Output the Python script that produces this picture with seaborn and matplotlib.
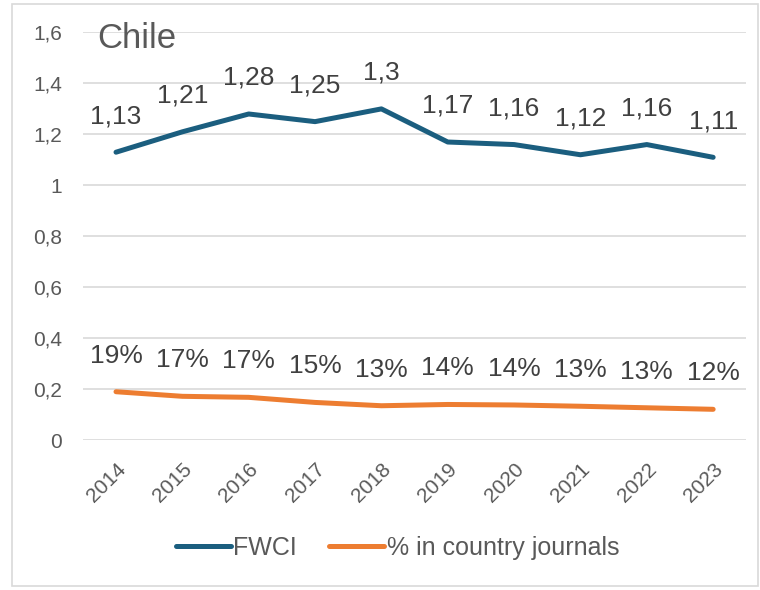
import pandas as pd
import matplotlib.pyplot as plt
import seaborn as sns
from matplotlib.patches import Rectangle

## Values
years = ['2014', '2015', '2016', '2017', '2018', '2019', '2020', '2021', '2022', '2023']
fwci = [1.13, 1.21, 1.28, 1.25, 1.30, 1.17, 1.16, 1.12, 1.16, 1.11]
country_share = [0.19, 0.172, 0.168, 0.148, 0.135, 0.14, 0.138, 0.133, 0.127, 0.121]
fwci_labels = ['1,13', '1,21', '1,28', '1,25', '1,3', '1,17', '1,16', '1,12', '1,16', '1,11']
share_labels = ['19%', '17%', '17%', '15%', '13%', '14%', '14%', '13%', '13%', '12%']
y_ticks = [0, 0.2, 0.4, 0.6, 0.8, 1.0, 1.2, 1.4, 1.6]
y_tick_labels = ['0', '0,2', '0,4', '0,6', '0,8', '1', '1,2', '1,4', '1,6']

blue = '#1b5e7f'
orange = '#ed7d31'
grey_text = '#595959'

data = pd.DataFrame({'year': years, 'FWCI': fwci, '% in country journals': country_share})
data = data.melt(id_vars='year', var_name='series', value_name='value')

sns.set_style('white')
plt.rcParams['font.family'] = ['Liberation Sans', 'DejaVu Sans']

fig = plt.figure(figsize=(7.6, 5.9), dpi=100)
ax = fig.add_axes([0.109, 0.254, 0.873, 0.691])

sns.lineplot(data=data, x='year', y='value', hue='series', sort=False,
             palette={'FWCI': blue, '% in country journals': orange},
             linewidth=3.6, ax=ax)

# data labels above each point
for i in range(len(years)):
    ax.annotate(fwci_labels[i], (i, fwci[i]), xytext=(0, 26), textcoords='offset points',
                ha='center', va='center', fontsize=19, color='#404040')
    ax.annotate(share_labels[i], (i, country_share[i]), xytext=(0, 26), textcoords='offset points',
                ha='center', va='center', fontsize=19, color='#404040')

ax.set_xlim(-0.5, len(years) - 0.5)
ax.set_ylim(0, 1.6)
ax.set_yticks(y_ticks)
ax.set_yticklabels(y_tick_labels)
ax.yaxis.grid(True, color='#d9d9d9', linewidth=1.2)
ax.xaxis.grid(False)
for s in ax.spines.values():
    s.set_visible(False)
ax.tick_params(axis='y', labelsize=15, labelcolor=grey_text, length=0, pad=15)
ax.tick_params(axis='x', labelsize=15, labelcolor=grey_text, length=0, pad=14)
plt.setp(ax.get_xticklabels(), rotation=45, ha='right', rotation_mode='anchor')
ax.set_xlabel('')
ax.set_ylabel('')

ax.text(0.021, 0.985, 'Chile', transform=ax.transAxes, fontsize=25, color=grey_text,
        ha='left', va='center')

handles, labels = ax.get_legend_handles_labels()
ax.legend_.remove()
fig.legend(handles, labels, loc='center', bbox_to_anchor=(0.523, 0.071), ncol=2,
           frameon=False, fontsize=18, labelcolor=grey_text, handlelength=2.2,
           handletextpad=0.1, columnspacing=1.3)

fig.patches.append(Rectangle((12 / 760, 4 / 590), 746 / 760, 582 / 590, transform=fig.transFigure,
                             fill=False, edgecolor='#d9d9d9', linewidth=1.2))

fig.savefig('out.png', dpi=100)
